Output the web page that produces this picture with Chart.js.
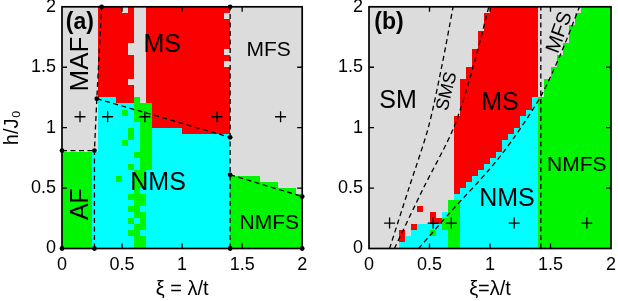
<!DOCTYPE html>
<html><head><meta charset="utf-8">
<script src="https://cdn.jsdelivr.net/npm/chart.js@4.4.1/dist/chart.umd.min.js"></script>
<style>
html,body{margin:0;padding:0;background:#fff;overflow:hidden}
#wrap{position:relative;width:618px;height:301px}
canvas{position:absolute;top:0}
#ca{left:0}
#cb{left:309px}
</style></head>
<body><div id="wrap"><canvas id="ca" width="309" height="301"></canvas><canvas id="cb" width="309" height="301"></canvas></div>
<script>
const FONT = "'Liberation Sans', Arial, Helvetica, sans-serif";

// ---- data ----
const xiTicks = [0, 0.5, 1, 1.5, 2];
const hTicks = [0, 0.5, 1, 1.5, 2];
const innerTicks = [0.5, 1, 1.5];
const cellStep = 0.05;          // grid step of the phase map (xi and h)
const hMax = 2;
const phaseColors = { G: '#dcdcdc', R: '#fa0000', C: '#00ffff', N: '#00f500' };

// phase map rows (top h=2 -> bottom h=0), run-length coded: letter + number of cells
const phaseA = [
"G6R4G1R1G2R14G12",
"G6R6G2R13G13",
"G6R6G2R14G12",
"G6R6G2R14G12",
"G6R6G2R14G12",
"G6R6G2R14G12",
"G6R5G3R14G12",
"G6R5G3R13G13",
"G6R6G2R14G12",
"G6R6G2R13G13",
"G6R6G2R14G12",
"G6R6G2R14G12",
"G6R5G3R14G12",
"G6R6G2R14G12",
"G6R6G2R14G12",
"G6C3R3N1G1R14G12",
"G6C6N3R13G12",
"G6C4N1C1N3R13G12",
"G6C6N3R13G12",
"G6C7N2R13G12",
"G6C5N1C1N2C5R8G12",
"G6C5N1C1N2C13G12",
"G6C4N1C2N2C13G12",
"G6C7N2C13G12",
"N5C7N3C13G12",
"N5C8N2C13G12",
"N5C6N1C1N2C13G12",
"N5C7N2C14G12",
"N5C4N1C2N2C14N5G7",
"N5C7N2C14N8G4",
"N5C7N1C15N11G1",
"N5C6N3C14N12",
"N5C7N2C14N12",
"N5C6N2C15N12",
"N5C7N2C14N12",
"N5C6N1C1N1C14N12",
"N5C7N2C14N12",
"N5C6N2C15N12",
"N5C7N2C14N12",
"N5C7N2C14N12"
];
const phaseB = [
"G20R8G7N5",
"G19R9G6N6",
"G19R9G6N6",
"G19R9G5N7",
"G18R10G5N7",
"G18R10G5N7",
"G18R10G4N8",
"G17R11G4N8",
"G17R11G3N9",
"G17R11G3N9",
"G16R12G2N10",
"G16R12G2N10",
"G15R13G1N11",
"G15R13G1N11",
"G15R13G1N11",
"G15R12C1N12",
"G15R12C1N12",
"G15R11C2N12",
"G14R11C3N12",
"G14R11C3N12",
"G14R10C4N12",
"G14R9C5N12",
"G14R8C6N12",
"G14R8C6N12",
"G14R7C7N12",
"G14R6C8N12",
"G14R5C9N12",
"G14R4C10N12",
"G14R3C11N12",
"G14R2C12N12",
"G14R1C13N12",
"G14C14N12",
"G13N2C13N12",
"G8R1G4N2C13N12",
"G10R1G1C1N2C13N12",
"G10R2N3C13N12",
"G7R1C4N3C13N12",
"G5R1G1C3N1C2N2C13N12",
"G5R1C7N2C13N12",
"G5C8N2C13N12"
];

// phase boundaries (xi, h)
const boundA1 = [[0, 0.81], [0.27, 0.81]];
const boundA2 = [[0.27, 0], [0.27, 0.81], [0.29, 1.24], [0.33, 2.0]];
const boundA3 = [[0.29, 1.24], [1.40, 0.92]];
const boundA4 = [[1.40, 0], [1.40, 2.0]];
const boundA5 = [[1.40, 0.61], [2.0, 0.43]];
const nodesA = [[0, 0], [0.27, 0], [1.40, 0], [2.0, 0], [0, 0.81], [0.27, 0.81], [0.29, 1.24],
                [0.33, 2.0], [1.40, 2.0], [1.40, 0.92], [1.40, 0.61], [2.0, 0.43]];
const boundB1 = [[0.17, 0], [0.33, 0.5], [0.49, 1.0], [0.60, 1.5], [0.695, 2.0]];
const boundB2 = [[0.21, 0], [0.45, 0.5], [0.70, 1.0], [0.86, 1.5], [0.99, 2.0]];
const boundB3 = [[0.41, 0], [0.69, 0.32], [1.0, 0.66], [1.2, 0.92], [1.42, 1.26], [1.58, 1.6], [1.74, 2.0]];
const boundB4 = [[1.42, 0], [1.42, 2.0]];

// sample points (+)
const crossXiA = [0.15, 0.38, 0.69, 1.29, 1.82];
const crossHA = [1.09, 1.09, 1.09, 1.09, 1.09];
const crossXiB = [0.17, 0.53, 0.68, 1.2, 1.8];
const crossHB = [0.21, 0.21, 0.21, 0.21, 0.21];

// phase names
const labelsA = [
  { t: '(a)', xi: 0.149, h: 1.868, size: 23, bold: true, rot: 0 },
  { t: 'MAF', xi: 0.157, h: 1.526, size: 26, rot: -90 },
  { t: 'MS', xi: 0.835, h: 1.686, size: 25, rot: 0 },
  { t: 'MFS', xi: 1.72, h: 1.64, size: 21, rot: 0 },
  { t: 'NMS', xi: 0.80, h: 0.544, size: 25, rot: 0 },
  { t: 'AF', xi: 0.157, h: 0.367, size: 25, rot: -90 },
  { t: 'NMFS', xi: 1.726, h: 0.21, size: 21, rot: 0 }
];
const labelsB = [
  { t: '(b)', xi: 0.165, h: 1.868, size: 23, bold: true, rot: 0 },
  { t: 'SM', xi: 0.24, h: 1.216, size: 25, rot: 0 },
  { t: 'SMS', xi: 0.645, h: 1.30, size: 18, rot: -76 },
  { t: 'MS', xi: 1.083, h: 1.204, size: 25, rot: 0 },
  { t: 'MFS', xi: 1.576, h: 1.788, size: 20, rot: -70 },
  { t: 'NMFS', xi: 1.717, h: 0.688, size: 21, rot: 0 },
  { t: 'NMS', xi: 1.14, h: 0.408, size: 25, rot: 0 }
];

// ---- drawing ----
function decodeRow(s) {
  const out = [];
  s.replace(/([A-Z])(\d+)/g, (m, k, n) => { out.push([k, +n]); return m; });
  return out;
}
function toPts(arr) { return arr.map(p => ({ x: p[0], y: p[1] })); }
function zipPts(xs, ys) { return xs.map((x, i) => ({ x: x, y: ys[i] })); }

function lineDs(arr, tension) {
  return { type: 'line', data: toPts(arr), showLine: true, fill: false, borderColor: '#000',
           borderWidth: 1.3, borderDash: [5, 3.5], pointRadius: 0, tension: tension || 0, clip: false };
}

function makePlugin(rows, labels) {
  return {
    id: 'phasemap',
    beforeDatasetsDraw(chart) {
      const ctx = chart.ctx, xs = chart.scales.x, ys = chart.scales.y;
      ctx.save();
      rows.forEach((row, r) => {
        const yT = Math.round(ys.getPixelForValue(hMax - r * cellStep));
        const yB = Math.round(ys.getPixelForValue(hMax - (r + 1) * cellStep));
        let c = 0;
        decodeRow(row).forEach(([k, n]) => {
          const xL = Math.round(xs.getPixelForValue(c * cellStep));
          const xR = Math.round(xs.getPixelForValue((c + n) * cellStep));
          ctx.fillStyle = phaseColors[k];
          ctx.fillRect(xL, yT, xR - xL, yB - yT);
          c += n;
        });
      });
      ctx.restore();
    },
    afterDatasetsDraw(chart) {
      const ctx = chart.ctx, xs = chart.scales.x, ys = chart.scales.y;
      ctx.save();
      ctx.fillStyle = '#000';
      ctx.textAlign = 'center';
      ctx.textBaseline = 'middle';
      labels.forEach(l => {
        ctx.save();
        ctx.translate(xs.getPixelForValue(l.xi), ys.getPixelForValue(l.h));
        ctx.rotate((l.rot || 0) * Math.PI / 180);
        ctx.font = (l.bold ? 'bold ' : '') + l.size + 'px ' + FONT;
        ctx.fillText(l.t, 0, 0);
        ctx.restore();
      });
      const a = chart.chartArea;
      ctx.strokeStyle = '#000';
      ctx.lineWidth = 1.3;
      ctx.beginPath();
      innerTicks.forEach(v => {
        const x = xs.getPixelForValue(v), y = ys.getPixelForValue(v);
        ctx.moveTo(x, a.bottom); ctx.lineTo(x, a.bottom - 5);
        ctx.moveTo(x, a.top); ctx.lineTo(x, a.top + 5);
        ctx.moveTo(a.left, y); ctx.lineTo(a.left + 5, y);
        ctx.moveTo(a.right, y); ctx.lineTo(a.right - 5, y);
      });
      ctx.stroke();
      ctx.lineWidth = 1.7;
      ctx.strokeRect(a.left, a.top, a.right - a.left, a.bottom - a.top);
      ctx.restore();
    }
  };
}

function makeChart(id, opts) {
  const tickFont = { family: FONT, size: 18 };
  return new Chart(document.getElementById(id), {
    type: 'scatter',
    data: { datasets: opts.datasets },
    options: {
      responsive: false, animation: false, devicePixelRatio: 1,
      layout: { padding: { left: 0, right: opts.rightPad, top: 6, bottom: 0 } },
      plugins: { legend: { display: false }, tooltip: { enabled: false } },
      scales: {
        x: {
          type: 'linear', min: 0, max: 2, position: 'bottom',
          afterBuildTicks: s => { s.ticks = xiTicks.map(v => ({ value: v })); },
          ticks: { color: '#000', font: tickFont, padding: 6, maxRotation: 0, autoSkip: false, callback: v => String(v) },
          grid: { display: false, drawTicks: false }, border: { display: false },
          title: { display: true, text: opts.xTitle, color: '#000', font: { family: FONT, size: 20 }, padding: 0 },
          afterFit: s => { s.height = 52.5; s.paddingLeft = 0; s.paddingRight = 0; }
        },
        y: {
          type: 'linear', min: 0, max: 2, position: 'left',
          afterBuildTicks: s => { s.ticks = hTicks.map(v => ({ value: v })); },
          ticks: { color: '#000', font: tickFont, padding: 6, autoSkip: false, callback: v => String(v) },
          grid: { display: false, drawTicks: false }, border: { display: false },
          title: { display: !!opts.yTitle, text: opts.yTitle || '', color: '#000', font: { family: FONT, size: 20 }, padding: 0 },
          afterFit: s => { s.width = opts.yWidth; s.paddingTop = 0; s.paddingBottom = 0; }
        }
      }
    },
    plugins: [makePlugin(opts.rows, opts.labels)]
  });
}

const crossStyle = { pointStyle: 'cross', pointRadius: 5.5, borderColor: '#000', backgroundColor: '#000', borderWidth: 1.3, clip: false };

makeChart('ca', {
  rows: phaseA, labels: labelsA, xTitle: 'ξ = λ/t', yTitle: 'h/J₀', yWidth: 62, rightPad: 5,
  datasets: [
    lineDs(boundA1), lineDs(boundA2), lineDs(boundA3), lineDs(boundA4), lineDs(boundA5),
    Object.assign({ data: zipPts(crossXiA, crossHA) }, crossStyle),
    { data: toPts(nodesA), pointStyle: 'circle', pointRadius: 2.4, backgroundColor: '#000', borderColor: '#000', borderWidth: 0, clip: false }
  ]
});
makeChart('cb', {
  rows: phaseB, labels: labelsB, xTitle: 'ξ=λ/t', yTitle: '', yWidth: 60, rightPad: 7,
  datasets: [
    lineDs(boundB1, 0.3), lineDs(boundB2, 0.3), lineDs(boundB3, 0.3), lineDs(boundB4),
    Object.assign({ data: zipPts(crossXiB, crossHB) }, crossStyle)
  ]
});
</script></body></html>
